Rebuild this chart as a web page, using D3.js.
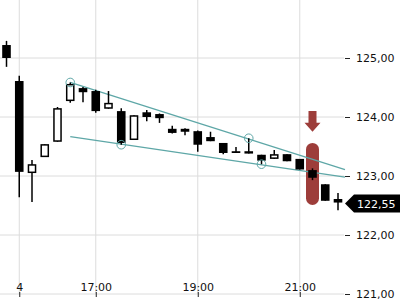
<!DOCTYPE html>
<html><head><meta charset="utf-8">
<script src="https://cdn.jsdelivr.net/npm/d3@7/dist/d3.min.js"></script>
<style>body{margin:0;background:#fff}svg{display:block}text{font-family:"DejaVu Sans",sans-serif}</style>
</head><body>
<script>
const times = ["15:15","15:30","15:45","16:00","16:15","16:30","16:45","17:00","17:15","17:30","17:45","18:00","18:15","18:30","18:45","19:00","19:15","19:30","19:45","20:00","20:15","20:30","20:45","21:00","21:15","21:30","21:45"];
const open  = [125.22,124.61,123.05,123.32,123.58,124.27,124.49,124.44,124.14,124.10,123.61,124.08,124.05,123.80,123.80,123.76,123.66,123.56,123.42,123.42,123.36,123.29,123.37,123.29,123.10,122.86,122.61];
const high  = [125.29,124.70,123.27,123.54,124.17,124.585,124.51,124.46,124.44,124.15,124.03,124.12,124.06,123.85,123.81,123.77,123.75,123.56,123.49,123.64,123.36,123.44,123.37,123.29,123.13,122.86,122.71];
const low   = [124.85,122.64,122.56,123.32,123.58,124.24,124.25,124.07,124.14,123.53,123.61,123.93,123.90,123.72,123.69,123.41,123.59,123.37,123.39,123.38,123.20,123.29,123.25,123.11,122.93,122.58,122.42];
const close = [125.00,123.07,123.20,123.54,124.15,124.56,124.42,124.10,124.24,123.56,124.03,124.00,123.98,123.73,123.75,123.53,123.59,123.39,123.39,123.38,123.26,123.37,123.25,123.11,122.97,122.58,122.55];
const xTickTimes = ["15:30","17:00","19:00","21:00"];
const xTickLabels = ["4","17:00","19:00","21:00"];
const yTicks = [121,122,123,124,125];
const upperTrend = [[5,124.585],[26.55,123.11]];
const lowerTrend = [[5,123.666],[26.55,122.98]];
const markers = [[5,124.585],[9,123.53],[19,123.64],[20,123.20]];
const signalIndex = 24;
const arrowRange = [124.10,123.75];
const capsuleRange = [122.51,123.56];
const lastPrice = 122.55;

const W=400,H=300;
const svg=d3.select("body").append("svg").attr("width",W).attr("height",H);
const x=d3.scaleLinear().domain([0,times.length-1]).range([6.5,338]);
const y=d3.scaleLinear().domain([121,125]).range([294,58]);
const fmt=v=>d3.format(".2f")(v).replace(".",",");
const idx=t=>times.indexOf(t);

// grid
svg.append("g").selectAll("line").data(yTicks).join("line")
 .attr("x1",0).attr("x2",344).attr("y1",d=>y(d)).attr("y2",d=>y(d))
 .attr("stroke","#dcdcdc").attr("stroke-width",1);
svg.append("g").selectAll("line").data(xTickTimes).join("line")
 .attr("x1",d=>x(idx(d))).attr("x2",d=>x(idx(d))).attr("y1",0).attr("y2",294)
 .attr("stroke","#dcdcdc").attr("stroke-width",1);

// right axis
const ya=d3.axisRight(y).tickValues(yTicks).tickFormat(fmt).tickSize(5).tickPadding(6);
const yg=svg.append("g").attr("transform","translate(345,0)").call(ya);
yg.select(".domain").remove();
yg.selectAll("line").attr("stroke","#222");
yg.selectAll("text").attr("font-size",11).attr("fill","#111").attr("font-family","DejaVu Sans");

// bottom axis
const xa=d3.axisBottom(x).tickValues(xTickTimes.map(idx)).tickFormat((d,i)=>xTickLabels[i]).tickSize(5).tickPadding(0);
const xg=svg.append("g").attr("transform","translate(0,292)").call(xa);
xg.select(".domain").remove();
xg.selectAll("line").attr("stroke","#222");
xg.selectAll("text").attr("font-size",11).attr("fill","#111").attr("font-family","DejaVu Sans").attr("y",-1).attr("dy",0);

// signal capsule
const red="#9d3d3a";
const cw=13;
svg.append("rect").attr("x",x(signalIndex)-cw/2).attr("width",cw)
 .attr("y",y(capsuleRange[1])).attr("height",y(capsuleRange[0])-y(capsuleRange[1]))
 .attr("rx",cw/2).attr("ry",cw/2).attr("fill",red);
// arrow
const ax=x(signalIndex), at=y(arrowRange[0]), ab=y(arrowRange[1]);
svg.append("path").attr("fill",red).attr("d",
 `M${ax-4},${at}L${ax+4},${at}L${ax+4},${ab-9}L${ax+8},${ab-9}L${ax},${ab}L${ax-8},${ab-9}L${ax-4},${ab-9}Z`);

// trend lines
const teal="#5ea7a7";
const line=d3.line().x(d=>x(d[0])).y(d=>y(d[1]));
[upperTrend,lowerTrend].forEach(t=>svg.append("path").attr("d",line(t)).attr("fill","none").attr("stroke",teal).attr("stroke-width",1.3));

// candles
const data=times.map((t,i)=>({i,o:open[i],h:high[i],l:low[i],c:close[i]}));
const bw=8.6;
const g=svg.append("g");
g.selectAll("line").data(data).join("line")
 .attr("x1",d=>x(d.i)).attr("x2",d=>x(d.i)).attr("y1",d=>y(d.h)).attr("y2",d=>y(d.l))
 .attr("stroke","#000").attr("stroke-width",1.5);
g.selectAll("rect").data(data).join("rect")
 .attr("x",d=>x(d.i)-bw/2+(d.c>=d.o?0.75:0)).attr("width",d=>d.c>=d.o?bw-1.5:bw)
 .attr("y",d=>y(Math.max(d.o,d.c))+(d.c>=d.o?0.75:0))
 .attr("height",d=>Math.max(1.5,Math.abs(y(d.o)-y(d.c))-(d.c>=d.o?1.5:0)))
 .attr("fill",d=>d.c>=d.o?"#fff":"#000").attr("stroke","#000").attr("stroke-width",d=>d.c>=d.o?1.5:0);

// markers
svg.append("g").selectAll("circle").data(markers).join("circle")
 .attr("cx",d=>x(d[0])).attr("cy",d=>y(d[1])).attr("r",4.3)
 .attr("fill","none").attr("stroke",teal).attr("stroke-width",1);

// last price tag
const py=y(lastPrice);
svg.append("path").attr("fill","#000").attr("d",`M345,${py+1}L354,${py-8}L400,${py-8}L400,${py+10}L354,${py+10}Z`);
svg.append("text").attr("x",357).attr("y",py+5.5).attr("fill","#fff").attr("font-size",11).text(fmt(lastPrice));
</script>
</body></html>
